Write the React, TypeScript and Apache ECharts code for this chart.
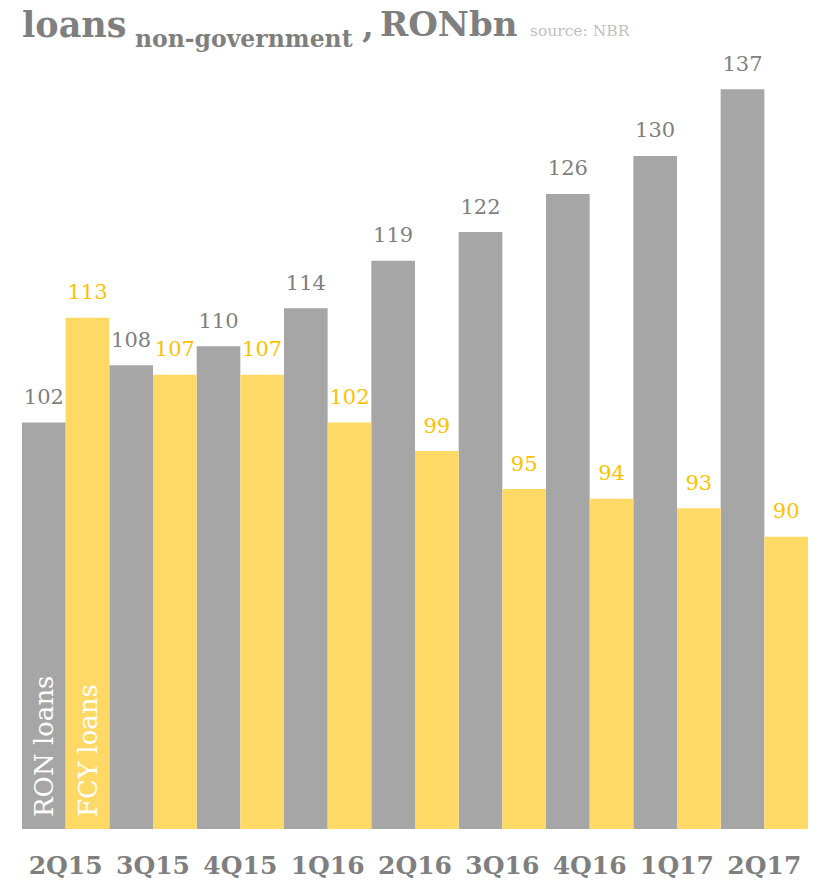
import React, { useEffect, useRef } from "react";
import * as echarts from "echarts";

const categories = ["2Q15", "3Q15", "4Q15", "1Q16", "2Q16", "3Q16", "4Q16", "1Q17", "2Q17"];
const ronLoans = [102, 108, 110, 114, 119, 122, 126, 130, 137];
const fcyLoans = [113, 107, 107, 102, 99, 95, 94, 93, 90];
const seriesNames = ["RON loans", "FCY loans"];

const Y_MIN = 59.3;
const Y_MAX = 140;
const SERIF = '"DejaVu Serif", Georgia, serif';
const GREY = "#A6A6A6";
const YELLOW = "#FFD966";
const GREY_TEXT = "#7F7F7F";
const YELLOW_TEXT = "#FFC000";

export default function App() {
  const ref = useRef<HTMLDivElement>(null);
  useEffect(() => {
    if (!ref.current) return;
    const chart = echarts.init(ref.current, undefined, { renderer: "svg" });
    const valueLabel = (color: string) => ({
      show: true,
      position: "top",
      distance: 15,
      color,
      fontFamily: SERIF,
      fontSize: 21,
    });
    chart.setOption({
      animation: false,
      grid: { left: 22, right: 13, top: 60.7, bottom: 52, outerBoundsMode: "none" },
      xAxis: {
        type: "category",
        data: categories,
        axisLine: { show: false },
        axisTick: { show: false },
        axisLabel: {
          margin: 24,
          color: GREY_TEXT,
          fontFamily: SERIF,
          fontWeight: "bold",
          fontSize: 25,
          interval: 0,
        },
      },
      yAxis: { type: "value", min: Y_MIN, max: Y_MAX, show: false, splitLine: { show: false } },
      series: [
        {
          name: seriesNames[0],
          type: "bar",
          data: ronLoans,
          barGap: "0%",
          barCategoryGap: "0%",
          itemStyle: { color: GREY },
          label: valueLabel(GREY_TEXT),
        },
        {
          name: seriesNames[1],
          type: "bar",
          data: fcyLoans,
          barGap: "0%",
          barCategoryGap: "0%",
          itemStyle: { color: YELLOW },
          label: valueLabel(YELLOW_TEXT),
        },
      ],
    });

    const p0 = chart.convertToPixel({ xAxisIndex: 0, yAxisIndex: 0 }, [0, Y_MIN]) as number[];
    const p1 = chart.convertToPixel({ xAxisIndex: 0, yAxisIndex: 0 }, [1, Y_MIN]) as number[];
    const band = p1[0] - p0[0];
    const base = p0[1];

    const titleText = (text: string, x: number, baseline: number, fs: number, bold: boolean, color: string) => ({
      type: "text",
      x,
      y: baseline - fs * 0.35,
      z: 100,
      style: {
        text,
        fill: color,
        fontFamily: SERIF,
        fontSize: fs,
        fontWeight: bold ? "bold" : "normal",
        align: "left",
        verticalAlign: "middle",
      },
    });
    const rotated = (text: string, cx: number) => ({
      type: "text",
      x: cx,
      y: base - 12,
      rotation: Math.PI / 2,
      z: 100,
      style: {
        text,
        fill: "#FFFFFF",
        fontFamily: SERIF,
        fontSize: 26,
        align: "left",
        verticalAlign: "middle",
      },
    });

    chart.setOption({
      graphic: [
        titleText("loans", 22, 37, 35, true, GREY_TEXT),
        titleText("non-government", 135, 47, 23.5, true, GREY_TEXT),
        titleText(",", 362, 37, 34, true, GREY_TEXT),
        titleText("RONbn", 380, 36, 34, true, GREY_TEXT),
        titleText("source: NBR", 530, 36, 15.5, false, "#BFBFBF"),
        rotated(seriesNames[0], p0[0] - band / 4),
        rotated(seriesNames[1], p0[0] + band / 4),
      ],
    });
    return () => chart.dispose();
  }, []);
  return <div ref={ref} style={{ width: 821, height: 881, position: "absolute", left: 0, top: 0 }} />;
}
